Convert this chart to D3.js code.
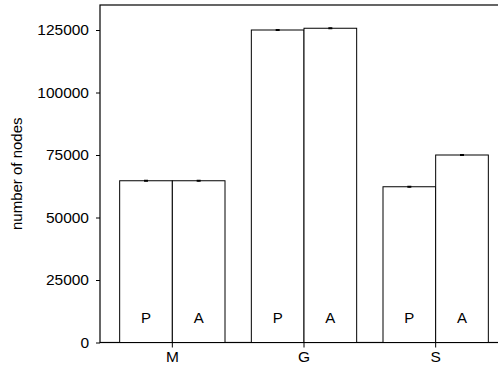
<!DOCTYPE html>
<html>
<head>
<meta charset="utf-8">
<script src="https://cdn.jsdelivr.net/npm/d3@7"></script>
<style>
  body { margin: 0; background: #fff; }
  text { font-family: "Liberation Sans", Arial, sans-serif; }
</style>
</head>
<body>
<div id="chart"></div>
<script>
// data
var groups = ["M", "G", "S"]
var subgroups = ["P", "A"]
var valuesP = [64700, 125000, 62300]
var valuesA = [64700, 125700, 75000]
var errP = [250, 200, 250]
var errA = [250, 200, 200]
var yTicks = [0, 25000, 50000, 75000, 100000, 125000]

var rows = []
groups.forEach(function(g, i) {
  rows.push({group: g, sub: "P", value: valuesP[i], err: errP[i]})
  rows.push({group: g, sub: "A", value: valuesA[i], err: errA[i]})
})

// svg
var W = 498, H = 370
var svg = d3.select("#chart")
  .append("svg")
    .attr("width", W)
    .attr("height", H)

// scales
var x = d3.scaleBand()
    .domain(groups)
    .range([106.5, 501.5])
    .paddingInner(0.2)
    .paddingOuter(0.1)

var xSub = d3.scaleBand()
    .domain(subgroups)
    .range([0, x.bandwidth()])

var y = d3.scaleLinear()
    .domain([0, 135000])
    .range([342.5, 5])

// plot box (right side falls outside the picture)
svg.append("rect")
    .attr("x", 100)
    .attr("y", y(135000))
    .attr("width", 410)
    .attr("height", y(0) - y(135000))
    .attr("fill", "none")
    .attr("stroke", "#000")
    .attr("stroke-width", 1.2)

// bars
var bars = svg.selectAll(".bar")
  .data(rows)
  .enter()
  .append("g")
    .attr("class", "bar")
    .attr("transform", function(d) { return "translate(" + (x(d.group) + xSub(d.sub)) + ",0)" })

bars.append("rect")
    .attr("x", 0)
    .attr("y", function(d) { return y(d.value) })
    .attr("width", xSub.bandwidth())
    .attr("height", function(d) { return y(0) - y(d.value) })
    .attr("fill", "#fff")
    .attr("stroke", "#000")
    .attr("stroke-width", 1)

// error bars (tiny)
bars.append("line")
    .attr("x1", xSub.bandwidth() / 2)
    .attr("x2", xSub.bandwidth() / 2)
    .attr("y1", function(d) { return y(d.value - d.err) })
    .attr("y2", function(d) { return y(d.value + d.err) })
    .attr("stroke", "#000")
    .attr("stroke-width", 1)
bars.append("line")
    .attr("x1", xSub.bandwidth() / 2 - 2)
    .attr("x2", xSub.bandwidth() / 2 + 2)
    .attr("y1", function(d) { return y(d.value) })
    .attr("y2", function(d) { return y(d.value) })
    .attr("stroke", "#000")
    .attr("stroke-width", 2)

// P / A labels
bars.append("text")
    .attr("x", xSub.bandwidth() / 2)
    .attr("y", y(10000))
    .attr("dy", "0.36em")
    .attr("text-anchor", "middle")
    .attr("font-size", "15px")
    .attr("fill", "#000")
    .text(function(d) { return d.sub })

// y axis
var yAxis = svg.append("g")
    .attr("transform", "translate(100,0)")
    .call(d3.axisLeft(y).tickValues(yTicks).tickSize(4).tickPadding(7).tickFormat(d3.format("d")))
yAxis.select(".domain").remove()
yAxis.selectAll("text").attr("font-size", "15.5px").attr("font-family", "Liberation Sans, Arial, sans-serif").attr("fill", "#000")
yAxis.selectAll("line").attr("stroke", "#000")

// x axis
var xAxis = svg.append("g")
    .attr("transform", "translate(0," + y(0) + ")")
    .call(d3.axisBottom(x).tickSize(5).tickPadding(3))
xAxis.select(".domain").remove()
xAxis.selectAll("text").attr("font-size", "15.5px").attr("font-family", "Liberation Sans, Arial, sans-serif").attr("fill", "#000")
xAxis.selectAll("line").attr("stroke", "#000")

// y axis title
svg.append("text")
    .attr("transform", "translate(22," + ((y(0) + y(135000)) / 2) + ") rotate(-90)")
    .attr("text-anchor", "middle")
    .attr("font-size", "15px")
    .attr("fill", "#000")
    .text("number of nodes")
</script>
</body>
</html>
